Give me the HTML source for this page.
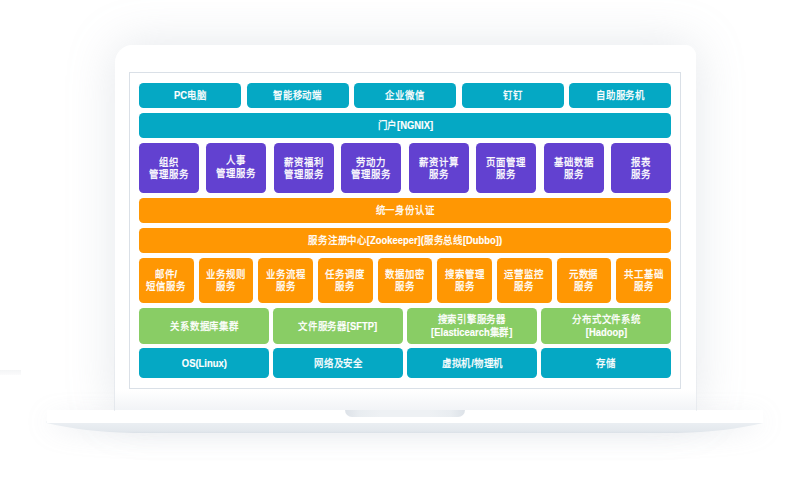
<!DOCTYPE html>
<html lang="zh-CN">
<head>
<meta charset="utf-8">
<title>架构图</title>
<style>
html,body{margin:0;padding:0;}
body{width:802px;height:477px;position:relative;overflow:hidden;background:#fff;font-family:"Liberation Sans",sans-serif;}
.abs{position:absolute;}
.screen{position:absolute;left:114.5px;top:44.8px;width:581.7px;height:366.2px;border-radius:18px 11px 0 0;background:linear-gradient(to bottom,#fff 0,#fff 345px,#f1f3f6 366px);box-shadow:0 0 48px rgba(155,165,182,0.27);}
.inner{position:absolute;left:129px;top:72px;width:552px;height:316.5px;box-sizing:border-box;border:1px solid #dae0e7;background:#fff;}
.baseshadow{position:absolute;left:47px;top:414px;width:716px;height:14px;border-radius:0 0 120px 120px / 0 0 12px 12px;box-shadow:0 5px 26px rgba(155,165,182,0.28);}
.base{position:absolute;left:46.5px;top:410.2px;width:716.5px;height:12.8px;background:#fff;}
.notch{position:absolute;left:345px;top:410px;width:120px;height:7.4px;border-radius:0 0 9px 9px;background:linear-gradient(to right,#dde2e8 0,#e9edf1 12%,#eef1f4 30%,#eef1f4 70%,#e9edf1 88%,#dde2e8 100%);}
.b{position:absolute;border-radius:4.5px;color:#fff;font-size:10.6px;font-weight:500;-webkit-text-stroke:0.3px #fff;line-height:12.5px;text-align:center;display:flex;align-items:center;justify-content:center;white-space:nowrap;}
.b span{position:relative;top:0px;display:inline-block;transform:translateY(0.45px) scaleX(0.888);}
.b i{font-style:normal;font-weight:700;-webkit-text-stroke:0.15px #fff;}
.teal{background:#05a8c4;}
.pur{background:#6241d0;}
.org{background:#ff9703;}
.grn{background:#89cd65;}
</style>
</head>
<body>
<div class="baseshadow"></div>
<div class="screen"></div>
<svg class="abs" style="left:0;top:400px" width="802" height="50" viewBox="0 400 802 50">
<defs><linearGradient id="lg" x1="0" y1="0" x2="0" y2="1"><stop offset="0" stop-color="#eef1f4"/><stop offset="0.2" stop-color="#eaeef2"/><stop offset="0.85" stop-color="#e3e8ed"/><stop offset="1" stop-color="#dbe1e7"/></linearGradient></defs>
<path d="M46.5,421 L46.5,423 C70,428.5 100,432.6 134,432.9 L676,432.9 C710,432.6 740,428.5 763,423 L763,421 Z" fill="url(#lg)"/>
</svg>
<div class="base"></div>
<div class="notch"></div>
<div class="inner"></div>
<div class="abs" style="left:113.5px;top:300px;width:1.5px;height:111px;background:linear-gradient(to bottom,rgba(205,212,222,0),rgba(205,212,222,0.4));"></div>
<div class="abs" style="left:695.5px;top:300px;width:1.5px;height:111px;background:linear-gradient(to bottom,rgba(205,212,222,0),rgba(205,212,222,0.3));"></div>
<div class="abs" style="left:0;top:370px;width:21px;height:4.5px;background:linear-gradient(to bottom,#f4f5f6,#fbfbfc);"></div>
<div class="b teal" style="left:139.00px;top:83.00px;width:102.00px;height:25.00px;"><span><i>PC</i>电脑</span></div>
<div class="b teal" style="left:246.50px;top:83.00px;width:102.00px;height:25.00px;"><span>智能移动端</span></div>
<div class="b teal" style="left:354.00px;top:83.00px;width:102.00px;height:25.00px;"><span>企业微信</span></div>
<div class="b teal" style="left:461.50px;top:83.00px;width:102.00px;height:25.00px;"><span>钉钉</span></div>
<div class="b teal" style="left:569.00px;top:83.00px;width:102.00px;height:25.00px;"><span>自助服务机</span></div>
<div class="b teal" style="left:139.00px;top:113.00px;width:532.00px;height:25.00px;"><span>门户<i>[NGNIX]</i></span></div>
<div class="b pur" style="left:139.00px;top:143.00px;width:60.00px;height:50.00px;"><span>组织<br>管理服务</span></div>
<div class="b pur" style="left:206.43px;top:143.00px;width:60.00px;height:50.00px;padding-bottom:2.4px;box-sizing:border-box;"><span>人事<br>管理服务</span></div>
<div class="b pur" style="left:273.86px;top:143.00px;width:60.00px;height:50.00px;"><span>薪资福利<br>管理服务</span></div>
<div class="b pur" style="left:341.29px;top:143.00px;width:60.00px;height:50.00px;"><span>劳动力<br>管理服务</span></div>
<div class="b pur" style="left:408.71px;top:143.00px;width:60.00px;height:50.00px;"><span>薪资计算<br>服务</span></div>
<div class="b pur" style="left:476.14px;top:143.00px;width:60.00px;height:50.00px;"><span>页面管理<br>服务</span></div>
<div class="b pur" style="left:543.57px;top:143.00px;width:60.00px;height:50.00px;"><span>基础数据<br>服务</span></div>
<div class="b pur" style="left:611.00px;top:143.00px;width:60.00px;height:50.00px;"><span>报表<br>服务</span></div>
<div class="b org" style="left:139.00px;top:198.00px;width:532.00px;height:25.00px;"><span>统一身份认证</span></div>
<div class="b org" style="left:139.00px;top:228.00px;width:532.00px;height:25.00px;"><span>服务注册中心<i>[Zookeeper](</i>服务总线<i>[Dubbo])</i></span></div>
<div class="b org" style="left:139.00px;top:258.00px;width:54.67px;height:44.50px;"><span>邮件<i>/</i><br>短信服务</span></div>
<div class="b org" style="left:198.67px;top:258.00px;width:54.67px;height:44.50px;"><span>业务规则<br>服务</span></div>
<div class="b org" style="left:258.33px;top:258.00px;width:54.67px;height:44.50px;"><span>业务流程<br>服务</span></div>
<div class="b org" style="left:318.00px;top:258.00px;width:54.67px;height:44.50px;"><span>任务调度<br>服务</span></div>
<div class="b org" style="left:377.67px;top:258.00px;width:54.67px;height:44.50px;"><span>数据加密<br>服务</span></div>
<div class="b org" style="left:437.33px;top:258.00px;width:54.67px;height:44.50px;"><span>搜索管理<br>服务</span></div>
<div class="b org" style="left:497.00px;top:258.00px;width:54.67px;height:44.50px;"><span>运营监控<br>服务</span></div>
<div class="b org" style="left:556.67px;top:258.00px;width:54.67px;height:44.50px;"><span>元数据<br>服务</span></div>
<div class="b org" style="left:616.33px;top:258.00px;width:54.67px;height:44.50px;"><span>共工基础<br>服务</span></div>
<div class="b grn" style="left:139.00px;top:308.00px;width:130.00px;height:35.80px;"><span>关系数据库集群</span></div>
<div class="b grn" style="left:273.00px;top:308.00px;width:130.00px;height:35.80px;"><span>文件服务器<i>[SFTP]</i></span></div>
<div class="b grn" style="left:407.00px;top:308.00px;width:130.00px;height:35.80px;"><span>搜索引擎服务器<br><i>[Elasticearch</i>集群<i>]</i></span></div>
<div class="b grn" style="left:541.00px;top:308.00px;width:130.00px;height:35.80px;"><span>分布式文件系统<br><i>[Hadoop]</i></span></div>
<div class="b teal" style="left:139.00px;top:348.00px;width:130.00px;height:30.00px;"><span><i>OS(Linux)</i></span></div>
<div class="b teal" style="left:273.00px;top:348.00px;width:130.00px;height:30.00px;"><span>网络及安全</span></div>
<div class="b teal" style="left:407.00px;top:348.00px;width:130.00px;height:30.00px;"><span>虚拟机<i>/</i>物理机</span></div>
<div class="b teal" style="left:541.00px;top:348.00px;width:130.00px;height:30.00px;"><span>存储</span></div>
</body>
</html>
